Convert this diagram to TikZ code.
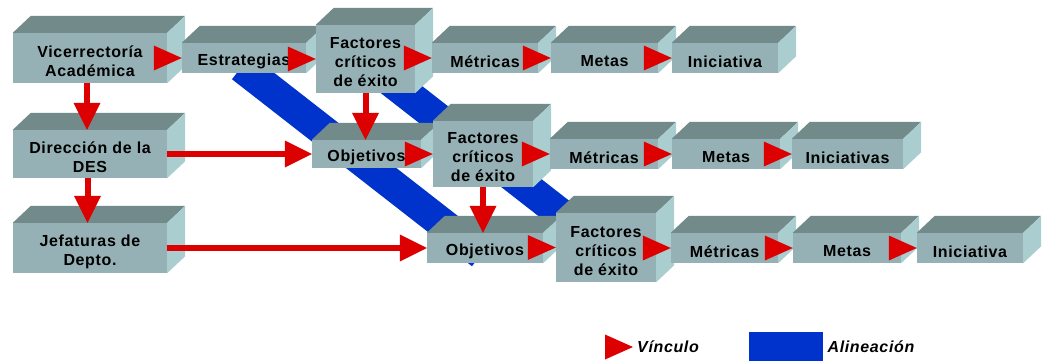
\documentclass[tikz,border=0pt]{standalone}
\usepackage{fontspec}
\setmainfont{Liberation Sans}[LetterSpace=4]
\usetikzlibrary{arrows.meta,calc,backgrounds}
\definecolor{frontc}{RGB}{149,177,181}
\definecolor{topc}{RGB}{115,138,139}
\definecolor{sidec}{RGB}{170,205,208}
\definecolor{vred}{RGB}{221,0,0}
\definecolor{vblue}{RGB}{0,51,204}
\tikzset{
  front/.style={fill=frontc, inner sep=0pt},
  boxtext/.style={inner sep=0pt, align=center,
    font=\fontsize{16}{19}\selectfont\bfseries},
  topface/.style={fill=topc},
  sideface/.style={fill=sidec},
  shaft/.style={draw=vred, line width=6pt,
    -{Triangle[length=27pt,width=27pt,line width=0pt]}},
  tiplink/.style={fill=vred},
  band/.style={draw=vblue, line width=31pt},
  legtext/.style={inner sep=0pt, font=\fontsize{16}{19}\selectfont\bfseries\itshape},
}
\newcommand\cubebox[6]{%
  \node[front, minimum width=#4pt, minimum height=#5pt] (#1) at (#2,#3) {};
  \fill[topface] (#1.north west) -- ([shift={(18,-17)}]#1.north west)
     -- ([shift={(18,-17)}]#1.north east) -- (#1.north east) -- cycle;
  \fill[sideface] (#1.north east) -- ([shift={(18,-17)}]#1.north east)
     -- ([shift={(18,-17)}]#1.south east) -- (#1.south east) -- cycle;
  \node[boxtext] (#1-t) at ([yshift=-3.5pt]#1.center) {#6};
}
\newcommand\vlink[2]{%
  \fill[tiplink] (#2.west) -- ([shift={(-28,-12.5)}]#2.west)
     -- ([shift={(-28,12.5)}]#2.west) -- cycle;
}
\begin{document}
\begin{tikzpicture}[x=1pt,y=-1pt]
\useasboundingbox (0,0) rectangle (1042,360);
% row 1
\cubebox{vic}{90}{58}{154}{50}{Vicerrectoría\\Académica}
\cubebox{est}{244}{58}{124}{30}{Estrategias}
\cubebox{fac1}{365.5}{59}{99}{68}{Factores\\críticos\\de éxito}
\cubebox{met1}{485}{58}{106}{30}{Métricas}
\cubebox{metas1}{604.5}{58}{107}{30}{Metas}
\cubebox{ini1}{725}{58}{106}{30}{Iniciativa}
% row 2
\cubebox{dir}{90}{154}{154}{48}{Dirección de la\\DES}
\cubebox{obj2}{366.5}{154}{109}{28}{Objetivos}
\cubebox{fac2}{483}{154}{100}{66}{Factores\\críticos\\de éxito}
\cubebox{met2}{604}{154}{108}{30}{Métricas}
\cubebox{metas2}{726}{154}{108}{30}{Metas}
\cubebox{inis2}{847.5}{154}{111}{30}{Iniciativas}
% row 3
\cubebox{jef}{90}{248}{154}{50}{Jefaturas de\\Depto.}
\cubebox{obj3}{485}{248}{116}{30}{Objetivos}
\cubebox{fac3}{606}{247.5}{100}{69}{Factores\\críticos\\de éxito}
\cubebox{met3}{724.5}{248}{107}{30}{Métricas}
\cubebox{metas3}{847}{248}{108}{30}{Metas}
\cubebox{ini3}{970}{248}{106}{30}{Iniciativa}
% alignment bands (behind)
\begin{scope}[on background layer]
  \draw[band] ([shift={(-2.5,-6.2)}]est.south) -- ([shift={(-3.5,-9.2)}]obj3.south);
  \draw[band] ([shift={(-17.6,-11.2)}]fac1.center) -- ([shift={(-14.5,-9.7)}]fac3.center);
\end{scope}
% links between neighbouring boxes
\vlink{vic}{est}
\vlink{est}{fac1}
\vlink{fac1}{met1}
\vlink{met1}{metas1}
\vlink{metas1}{ini1}
\vlink{obj2}{fac2}
\vlink{fac2}{met2}
\vlink{met2}{metas2}
\vlink{metas2}{inis2}
\vlink{obj3}{fac3}
\vlink{fac3}{met3}
\vlink{met3}{metas3}
\vlink{metas3}{ini3}
% arrows with shafts
\draw[shaft] (dir.east) -- (obj2.west);
\draw[shaft] (jef.east) -- (obj3.west);
\draw[shaft] ([xshift=-3pt]vic.south) -- ([xshift=-3pt]vic.south |- dir.north);
\draw[shaft] ([xshift=-2.5pt]dir.south) -- ([xshift=-2.5pt]dir.south |- jef.north);
\draw[shaft] (fac1.south) -- (fac1.south |- obj2.north);
\draw[shaft] (fac2.south) -- (fac2.south |- obj3.north);
% legend
\node[legtext, anchor=west] (vin) at (637,347) {Vínculo};
\fill[tiplink] ([xshift=-4pt]vin.west) -- ([shift={(-32,-12.5)}]vin.west)
   -- ([shift={(-32,12.5)}]vin.west) -- cycle;
\node[fill=vblue, minimum width=74pt, minimum height=30pt, inner sep=0pt,
   anchor=north west] (alb) at (749,332) {};
\node[legtext, anchor=west] (ali) at ([xshift=4pt]alb.east) {Alineación};
\end{tikzpicture}
\end{document}
